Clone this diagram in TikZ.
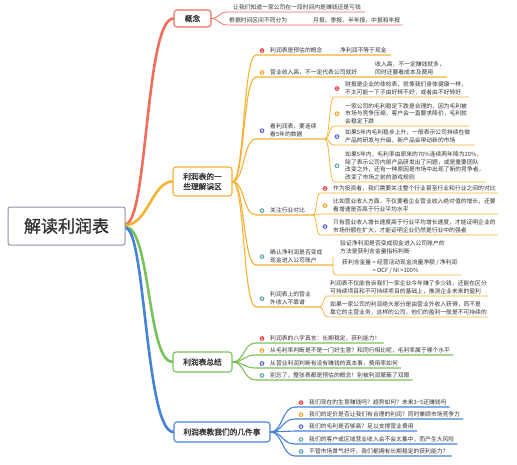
\documentclass[tikz,border=0pt]{standalone}
\usepackage{fontspec}
\setmainfont{Noto Sans CJK SC}[AutoFakeBold=1.2]
\usetikzlibrary{calc,backgrounds}
\definecolor{cred}{HTML}{EF6D5C}
\definecolor{corg}{HTML}{F6B232}
\definecolor{cgrn}{HTML}{77C25A}
\definecolor{cblu}{HTML}{4683D8}
\definecolor{crootb}{HTML}{8A94A5}
\definecolor{txt}{HTML}{333333}
\definecolor{bA}{HTML}{E2474B}
\definecolor{bB}{HTML}{F4A52A}
\definecolor{bC}{HTML}{5A63D8}
\definecolor{bD}{HTML}{60A6B0}
\newcommand\mmleaffont{\fontsize{5.8}{7.9}\selectfont}
\newcommand\mmboxfont{\fontsize{7.7}{10}\selectfont\bfseries}
\newcommand\mmbadgefont{\fontsize{3.4}{3.4}\selectfont\bfseries}
\begin{document}
\begin{tikzpicture}[x=1pt,y=-1pt,
  leaf/.style={inner sep=0pt, anchor=south west, align=left, font=\mmleaffont, text=txt},
  badge/.style={circle, fill=#1, inner sep=0pt, minimum size=4.8pt, text=white, font=\mmbadgefont},
  topic/.style={draw=#1, rounded corners=3pt, line width=1.1pt, fill=white, text=txt, font=\mmboxfont, align=center, inner sep=0pt},
  trunk/.style={line width=2.6pt, line cap=round, draw=#1},
  lvA/.style={line width=1.1pt, draw=#1},
  lvB/.style={line width=0.75pt, draw=#1}]
\useasboundingbox (0,0) rectangle (517,464);

% ---------- root and topics ----------
\node[draw=crootb, rounded corners=2pt, line width=1pt, fill=white, minimum width=117pt, minimum height=38pt, inner sep=0pt, text=txt, font=\fontsize{17}{20}\selectfont\bfseries] (root) at (66.5,226) {解读利润表};
\node[topic=cred, minimum width=37pt, minimum height=17pt] (gn) at (192.5,18.5) {概念};
\node[topic=corg, minimum width=59pt, minimum height=29pt] (wq) at (202.5,181.5) {利润表的一\\些理解误区};
\node[topic=cgrn, minimum width=59pt, minimum height=20pt] (zj) at (202.5,362) {利润表总结};
\node[topic=cblu, minimum width=96pt, minimum height=20pt] (js) at (222,432) {利润表教我们的几件事};

% ---------- red branch ----------
\coordinate (r1s) at (226,12);
\node[leaf] (r1) at (233,10.5) {让我们知道一家公司在一段时间内是赚钱还是亏钱};
\coordinate (r2s) at (226,25);
\node[leaf] (r2) at (229,23.5) {根据时间区间不同分为};
\node[leaf] (r2c) at (313,23.5) {月报、季报、半年报、中报和年报};

% ---------- orange branch ----------
\coordinate (o1s) at (256,55);
\node[leaf] (o1) at (270,53.5) {利润表是预估的概念};
\node[leaf] (o1c) at (340,53.5) {净利润不等于现金};
\node[badge=bA] (o1m) at ($(o1.west)+(-8,0)$) {1};

\coordinate (o2s) at (256,77);
\node[leaf] (o2) at (270,75.5) {营业收入高，不一定代表公司就好};
\node[leaf] (o2c) at (375,75.5) {收入高，不一定赚钱就多，\\同时还要看成本及费用};
\node[badge=bB] (o2m) at ($(o2.west)+(-8,0)$) {2};

\coordinate (o3s) at (256,139);
\coordinate (o3e) at (325,139);
\node[leaf] (o3) at (270,137.5) {看利润表，要连续\\看5年的数据};
\node[badge=bC] (o3m) at ($(o3.west)+(-8,0)$) {3};
\coordinate (o3as) at (334,97);
\node[leaf] (o3a) at (345,95.5) {财报是企业的体检表，就像我们身体健康一样，\\不太可能一下子由好转不好，或者由不好转好};
\node[badge=bA] (o3am) at ($(o3a.west)+(-8,0)$) {1};
\coordinate (o3bs) at (334,126);
\node[leaf] (o3b) at (345,124.5) {一家公司的毛利稳定下跌是合理的，因为毛利被\\市场与竞争压缩，客户会一直要求降价，毛利就\\会稳定下跌};
\node[badge=bB] (o3bm) at ($(o3b.west)+(-8,0)$) {2};
\coordinate (o3cs) at (334,145);
\node[leaf] (o3c) at (345,143.5) {如果5年内毛利稳步上升，一般表示公司持续在做\\产品的研发与升级，新产品会带动新的市场};
\node[badge=bC] (o3cm) at ($(o3c.west)+(-8,0)$) {3};
\coordinate (o3ds) at (334,182);
\node[leaf] (o3d) at (345,180.5) {如果5年内，毛利率由原来的70\%连续两年降为20\%，\\除了表示公司内部产品研发出了问题，或是重要团队\\改变之外，还有一种原因是市场中出现了新的竞争者，\\改变了市场之前的游戏规则};
\node[badge=bD] (o3dm) at ($(o3d.west)+(-8,0)$) {4};

\coordinate (o4s) at (256,215);
\coordinate (o4e) at (313,215);
\node[leaf] (o4) at (270,213.5) {关注行业对比};
\node[badge=bD] (o4m) at ($(o4.west)+(-8,0)$) {4};
\coordinate (o4as) at (320,193);
\node[leaf] (o4a) at (333,191.5) {作为投资者，我们需要关注整个行业甚至行业和行业之间的对比};
\node[badge=bA] (o4am) at ($(o4a.west)+(-8,0)$) {1};
\coordinate (o4bs) at (320,214);
\node[leaf] (o4b) at (333,212.5) {比如营业收入方面，不仅要看企业营业收入绝对值的增长，还要\\看增速是否高于行业平均水平};
\node[badge=bB] (o4bm) at ($(o4b.west)+(-8,0)$) {2};
\coordinate (o4cs) at (320,235);
\node[leaf] (o4c) at (333,233.5) {只有营业收入增长速度高于行业平均增长速度，才能证明企业的\\市场份额在扩大，才能证明企业仍然是行业中的强者};
\node[badge=bC] (o4cm) at ($(o4c.west)+(-8,0)$) {3};

\coordinate (o5s) at (256,265);
\coordinate (o5e) at (333,265);
\node[leaf] (o5) at (270,263.5) {确认净利润是否变成\\现金进入公司账户};
\node[badge=bD] (o5m) at ($(o5.west)+(-8,0)$) {5};
\node[leaf] (o5a) at (340,254) {验证净利润是否变成现金进入公司账户的\\方法是获利含金量指标判断};
\coordinate (o5at) at (333,257);
\coordinate (o5bs) at (333,275);
\node[leaf] (o5b) at (342,273.5) {获利含金量 = 经营活动现金流量净额 / 净利润\\\hphantom{获利含金量 }= OCF / NI >100\%};

\coordinate (o6s) at (256,307);
\coordinate (o6e) at (320,307);
\node[leaf] (o6) at (270,305.5) {利润表上的营业\\外收入不靠谱};
\node[badge=bD] (o6m) at ($(o6.west)+(-8,0)$) {6};
\coordinate (o6as) at (327,296);
\node[leaf] (o6a) at (330,294.5) {利润表不仅能告诉我们一家企业今年赚了多少钱，还能在区分\\可持续项目和不可持续项目的基础上，推测企业未来的盈利};
\coordinate (o6bs) at (327,317);
\node[leaf] (o6b) at (330,315.5) {如果一家公司的利润绝大部分是由营业外收入获得，而不是\\靠它的主营业务，这样的公司，他们的盈利一般是不可持续的};

% ---------- green branch ----------
\coordinate (g1s) at (256,343);
\node[leaf] (g1) at (270,341.5) {利润表的八字真言：长期稳定，获利能力！};
\node[badge=bA] (g1m) at ($(g1.west)+(-8,0)$) {1};
\coordinate (g2s) at (256,355);
\node[leaf] (g2) at (270,353.5) {从毛利率判断是不是一门好生意？和同行相比呢，毛利率属于哪个水平};
\node[badge=bB] (g2m) at ($(g2.west)+(-8,0)$) {2};
\coordinate (g3s) at (256,368);
\node[leaf] (g3) at (270,366.5) {从营业利润判断有没有赚钱的真本事，费用率如何};
\node[badge=bC] (g3m) at ($(g3.west)+(-8,0)$) {3};
\coordinate (g4s) at (256,380);
\node[leaf] (g4) at (270,378.5) {别忘了，整张表都是预估的概念！别被利润蒙蔽了双眼};
\node[badge=bD] (g4m) at ($(g4.west)+(-8,0)$) {4};

% ---------- blue branch ----------
\coordinate (u1s) at (295,407);
\node[leaf] (u1) at (309,405.5) {我们现在的生意赚钱吗？趋势如何？未来3\textasciitilde 5还赚钱吗};
\node[badge=bA] (u1m) at ($(u1.west)+(-8,0)$) {1};
\coordinate (u2s) at (295,419);
\node[leaf] (u2) at (309,417.5) {我们的定价是否让我们有合理的利润？同时兼顾市场竞争力};
\node[badge=bB] (u2m) at ($(u2.west)+(-8,0)$) {2};
\coordinate (u3s) at (295,431);
\node[leaf] (u3) at (309,429.5) {我们的毛利是否够高？足以支撑营业费用};
\node[badge=bC] (u3m) at ($(u3.west)+(-8,0)$) {3};
\coordinate (u4s) at (295,444);
\node[leaf] (u4) at (309,442.5) {我们的客户或区域营业收入会不会太集中，而产生大风险};
\node[badge=bD] (u4m) at ($(u4.west)+(-8,0)$) {4};
\coordinate (u5s) at (295,456);
\node[leaf] (u5) at (309,454.5) {不管市场景气好坏，我们都拥有长期稳定的获利能力？};
\node[badge=bD] (u5m) at ($(u5.west)+(-8,0)$) {5};

% ---------- connectors (behind) ----------
\begin{scope}[on background layer]
\fill[white] (0,0) rectangle (517,464);
% root trunks
\draw[trunk=cred] ([yshift=2pt]root.east) .. controls +(22,0) and +(-28,0) .. (gn.west);
\draw[trunk=corg] ([yshift=1pt]root.east) .. controls +(22,0) and +(-20,0) .. (wq.west);
\draw[trunk=cgrn] ([yshift=-1pt]root.east) .. controls +(25,0) and +(-25,0) .. (zj.west);
\draw[trunk=cblu] ([yshift=-2pt]root.east) .. controls +(20,0) and +(-28,0) .. (js.west);
% red
\draw[lvB=cred] (gn.east) .. controls +(7,0) and +(-6,0) .. (r1s) -- ($(r1s -| r1.east)+(4,0)$);
\draw[lvB=cred] (gn.east) .. controls +(7,0) and +(-6,0) .. (r2s) -- ($(r2s -| r2c.east)+(2,0)$);
% orange level 1
\draw[lvA=corg] (wq.east) .. controls +(12,0) and +(-13,0) .. (o1s) -- ($(o1s -| o1c.east)+(4,0)$);
\draw[lvA=corg] (wq.east) .. controls +(12,0) and +(-13,0) .. (o2s) -- ($(o2s -| o2c.east)+(2,0)$);
\draw[lvA=corg] (wq.east) .. controls +(12,0) and +(-13,0) .. (o3s) -- (o3e);
\draw[lvA=corg] (wq.east) .. controls +(12,0) and +(-13,0) .. (o4s) -- (o4e);
\draw[lvA=corg] (wq.east) .. controls +(12,0) and +(-13,0) .. (o5s) -- (o5e);
\draw[lvA=corg] (wq.east) .. controls +(12,0) and +(-13,0) .. (o6s) -- (o6e);
% orange level 2
\draw[lvB=corg] (o3e) .. controls +(5,0) and +(-5,0) .. (o3as) -- ($(o3as -| o3a.east)+(2,0)$);
\draw[lvB=corg] (o3e) .. controls +(5,0) and +(-5,0) .. (o3bs) -- ($(o3bs -| o3b.east)+(2,0)$);
\draw[lvB=corg] (o3e) .. controls +(5,0) and +(-5,0) .. (o3cs) -- ($(o3cs -| o3c.east)+(4,0)$);
\draw[lvB=corg] (o3e) .. controls +(5,0) and +(-5,0) .. (o3ds) -- ($(o3ds -| o3d.east)+(2,0)$);
\draw[lvB=corg] (o4e) .. controls +(4,0) and +(-4,0) .. (o4as) -- ($(o4as -| o4a.east)+(2,0)$);
\draw[lvB=corg] (o4e) .. controls +(4,0) and +(-4,0) .. (o4bs) -- ($(o4bs -| o4b.east)+(2,0)$);
\draw[lvB=corg] (o4e) .. controls +(4,0) and +(-4,0) .. (o4cs) -- ($(o4cs -| o4c.east)+(2,0)$);
\draw[lvB=corg, rounded corners=4pt] (o5at) |- ($(o5bs -| o5b.east)+(4,0)$);
\draw[lvB=corg] (o6e) .. controls +(3.5,0) and +(-3.5,0) .. (o6as) -- ($(o6as -| o6a.east)+(1,0)$);
\draw[lvB=corg] (o6e) .. controls +(3.5,0) and +(-3.5,0) .. (o6bs) -- ($(o6bs -| o6b.east)+(1,0)$);
% green
\draw[lvA=cgrn] (zj.east) .. controls +(12,0) and +(-13,0) .. (g1s) -- ($(g1s -| g1.east)+(3,0)$);
\draw[lvA=cgrn] (zj.east) .. controls +(12,0) and +(-13,0) .. (g2s) -- ($(g2s -| g2.east)+(3,0)$);
\draw[lvA=cgrn] (zj.east) .. controls +(12,0) and +(-13,0) .. (g3s) -- ($(g3s -| g3.east)+(3,0)$);
\draw[lvA=cgrn] (zj.east) .. controls +(12,0) and +(-13,0) .. (g4s) -- ($(g4s -| g4.east)+(3,0)$);
% blue
\draw[lvA=cblu] (js.east) .. controls +(12,0) and +(-13,0) .. (u1s) -- ($(u1s -| u1.east)+(3,0)$);
\draw[lvA=cblu] (js.east) .. controls +(12,0) and +(-13,0) .. (u2s) -- ($(u2s -| u2.east)+(3,0)$);
\draw[lvA=cblu] (js.east) .. controls +(12,0) and +(-13,0) .. (u3s) -- ($(u3s -| u3.east)+(3,0)$);
\draw[lvA=cblu] (js.east) .. controls +(12,0) and +(-13,0) .. (u4s) -- ($(u4s -| u4.east)+(3,0)$);
\draw[lvA=cblu] (js.east) .. controls +(12,0) and +(-13,0) .. (u5s) -- ($(u5s -| u5.east)+(3,0)$);
\end{scope}
\end{tikzpicture}
\end{document}
